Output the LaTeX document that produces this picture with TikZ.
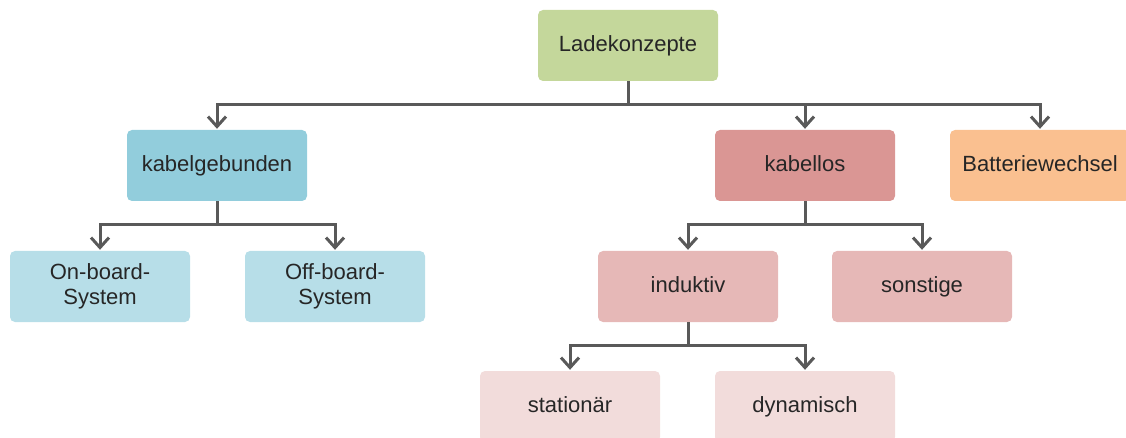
\documentclass[tikz,border=0pt]{standalone}
\usepackage{fontspec}
\setmainfont{Liberation Sans}
\usetikzlibrary{arrows.meta}
\definecolor{cgreen}{HTML}{C4D79B}
\definecolor{cblue}{HTML}{92CDDC}
\definecolor{cbluel}{HTML}{B7DEE8}
\definecolor{cred}{HTML}{DA9694}
\definecolor{credl}{HTML}{E6B8B7}
\definecolor{credxl}{HTML}{F2DCDB}
\definecolor{corange}{HTML}{FAC090}
\definecolor{cline}{HTML}{595959}
\definecolor{ctext}{HTML}{262626}
\tikzset{
  boxbase/.style={rounded corners=5pt, minimum width=180pt, minimum height=71pt, inner sep=0pt,
    align=center, text=ctext, font=\fontsize{22}{25}\selectfont},
  box/.style={boxbase, text height=16pt, text depth=4.5pt},
  boxtwo/.style={boxbase},
  conn/.style={draw=cline, line width=3pt},
  arr/.style={conn, -{Straight Barb[length=10pt,width=18pt,line width=3pt]}, shorten >=1pt}
}
\begin{document}
\begin{tikzpicture}[x=1pt,y=-1pt]
\useasboundingbox (0,0) rectangle (1126,438);
\clip (0,0) rectangle (1126,438);
\node[box, fill=cgreen] (top) at (628,45.5) {Ladekonzepte};
\node[box, fill=cblue] (kg) at (217,165.5) {kabelgebunden};
\node[box, fill=cred] (kl) at (805,165.5) {kabellos};
\node[box, fill=corange] (bw) at (1040,165.5) {Batteriewechsel};
\node[boxtwo, fill=cbluel] (on) at (100,286.5) {On-board-\\System};
\node[boxtwo, fill=cbluel] (off) at (335,286.5) {Off-board-\\System};
\node[box, fill=credl] (ind) at (688,286.5) {induktiv};
\node[box, fill=credl] (son) at (922,286.5) {sonstige};
\node[box, fill=credxl] (sta) at (570,406.5) {stationär};
\node[box, fill=credxl] (dyn) at (805,406.5) {dynamisch};
\coordinate (j1) at (628,105);
\coordinate (j2) at (217,225);
\coordinate (j3) at (805,225);
\coordinate (j4) at (688,345);
\draw[conn] (top.south) -- (j1);
\draw[arr] (j1) -| (kg.north);
\draw[arr] (j1) -| (kl.north);
\draw[arr] (j1) -| (bw.north);
\draw[conn] (kg.south) -- (j2);
\draw[arr] (j2) -| (on.north);
\draw[arr] (j2) -| (off.north);
\draw[conn] (kl.south) -- (j3);
\draw[arr] (j3) -| (ind.north);
\draw[arr] (j3) -| (son.north);
\draw[conn] (ind.south) -- (j4);
\draw[arr] (j4) -| (sta.north);
\draw[arr] (j4) -| (dyn.north);
\end{tikzpicture}
\end{document}
